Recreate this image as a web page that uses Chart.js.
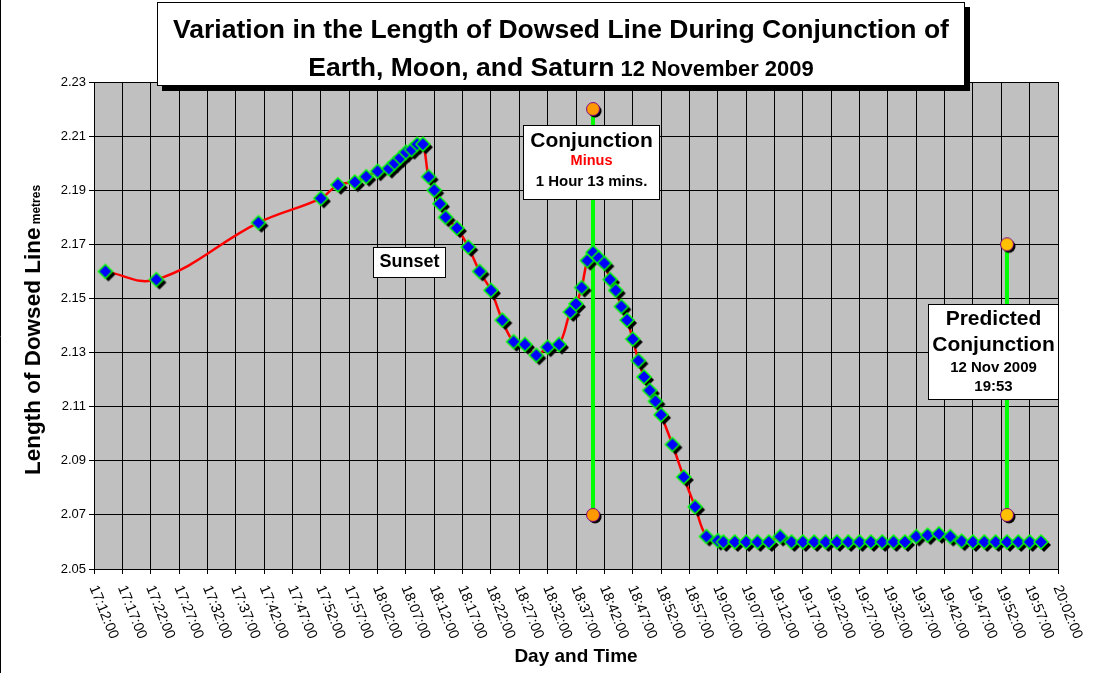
<!DOCTYPE html>
<html><head><meta charset="utf-8">
<script src="https://cdn.jsdelivr.net/npm/chart.js@4.4.0/dist/chart.umd.min.js"></script>
<style>html,body{margin:0;padding:0;background:#fff;overflow:hidden;}#wrap{width:1096px;height:673px;position:relative;}</style>
</head><body><div id="wrap"><canvas id="c" width="1096" height="673"></canvas></div>
<script>
// ---- data ----
const times = ["17:14:00","17:23:00","17:41:00","17:52:00","17:55:00","17:58:00","18:00:00","18:02:00",
"18:04:00","18:05:00","18:06:00","18:07:00","18:08:00","18:09:00","18:10:00","18:11:00","18:12:00","18:13:00",
"18:14:00","18:16:00","18:18:00","18:20:00","18:22:00","18:24:00","18:26:00","18:28:00","18:30:00","18:32:00",
"18:34:00","18:36:00","18:37:00","18:38:00","18:39:00","18:40:00","18:41:00","18:42:00","18:43:00","18:44:00",
"18:45:00","18:46:00","18:47:00","18:48:00","18:49:00","18:50:00","18:51:00","18:52:00","18:54:00","18:56:00",
"18:58:00","19:00:00","19:02:00","19:03:00","19:05:00","19:07:00","19:09:00","19:11:00","19:13:00","19:15:00",
"19:17:00","19:19:00","19:21:00","19:23:00","19:25:00","19:27:00","19:29:00","19:31:00","19:33:00","19:35:00",
"19:37:00","19:39:00","19:41:00","19:43:00","19:45:00","19:47:00","19:49:00","19:51:00","19:53:00","19:55:00",
"19:57:00","19:59:00"];
const lengths = [2.160,2.157,2.178,2.187,2.192,2.193,2.195,2.197,
2.198,2.200,2.202,2.204,2.205,2.207,2.207,2.195,2.190,2.185,
2.180,2.176,2.169,2.160,2.153,2.142,2.134,2.133,2.129,2.132,
2.133,2.145,2.148,2.154,2.164,2.167,2.165,2.163,2.157,2.153,
2.147,2.142,2.135,2.127,2.121,2.116,2.112,2.107,2.096,2.084,
2.073,2.062,2.0605,2.060,2.060,2.060,2.060,2.060,2.062,2.060,
2.060,2.060,2.060,2.060,2.060,2.060,2.060,2.060,2.060,2.060,
2.062,2.0625,2.063,2.062,2.0603,2.060,2.060,2.060,2.060,2.060,
2.060,2.060];
const conjunctionTimes = ["18:40:00","18:40:00"];
const conjunctionValues = [2.22, 2.07];
const predictedTimes = ["19:53:00","19:53:00"];
const predictedValues = [2.17, 2.07];
const xTickLabels = ["17:12:00","17:17:00","17:22:00","17:27:00","17:32:00","17:37:00","17:42:00","17:47:00",
"17:52:00","17:57:00","18:02:00","18:07:00","18:12:00","18:17:00","18:22:00","18:27:00","18:32:00","18:37:00",
"18:42:00","18:47:00","18:52:00","18:57:00","19:02:00","19:07:00","19:12:00","19:17:00","19:22:00","19:27:00",
"19:32:00","19:37:00","19:42:00","19:47:00","19:52:00","19:57:00","20:02:00"];
const yTickValues = [2.05,2.07,2.09,2.11,2.13,2.15,2.17,2.19,2.21,2.23];

// ---- helpers ----
function toSec(t){const p=t.split(':').map(Number);return p[0]*3600+p[1]*60+p[2];}
function fmt(sec){const h=Math.floor(sec/3600),m=Math.floor(sec%3600/60),s=Math.round(sec%60);
  return h+':'+String(m).padStart(2,'0')+':'+String(s).padStart(2,'0');}
const FONT='"Liberation Sans", Arial, sans-serif';

function makeDiamond(){
  const s=30,c=15,r=7,off=3;const cv=document.createElement('canvas');cv.width=s;cv.height=s;
  const g=cv.getContext('2d');
  const path=(x,y)=>{g.beginPath();g.moveTo(x,y-r);g.lineTo(x+r,y);g.lineTo(x,y+r);g.lineTo(x-r,y);g.closePath();};
  path(c+off,c+off);g.fillStyle='#000';g.fill();
  path(c,c);g.fillStyle='#0000FF';g.fill();g.strokeStyle='#00FF00';g.lineWidth=1.5;g.stroke();
  return cv;
}
function makeCircle(fill){
  const s=26,c=13,r=6.5,off=2;const cv=document.createElement('canvas');cv.width=s;cv.height=s;
  const g=cv.getContext('2d');
  g.beginPath();g.arc(c+off,c+off,r,0,Math.PI*2);g.fillStyle='#000';g.fill();
  g.beginPath();g.arc(c,c,r,0,Math.PI*2);g.fillStyle=fill;g.fill();g.strokeStyle='#800080';g.lineWidth=1;g.stroke();
  return cv;
}

function textBox(ctx,x,y,w,h,lines){
  ctx.save();
  ctx.fillStyle='#fff';ctx.fillRect(x,y,w,h);
  ctx.strokeStyle='#000';ctx.lineWidth=1;ctx.strokeRect(x+0.5,y+0.5,w-1,h-1);
  ctx.textAlign='center';ctx.textBaseline='middle';
  lines.forEach(l=>{ctx.font='bold '+l.size+'px '+FONT;ctx.fillStyle=l.color||'#000';ctx.fillText(l.text,x+w/2,l.y);});
  ctx.restore();
}

const decor={
  id:'decor',
  beforeDraw(chart){
    const {ctx,chartArea:a}=chart;
    ctx.save();ctx.fillStyle='#fff';ctx.fillRect(0,0,chart.width,chart.height);
    ctx.fillStyle='#C0C0C0';ctx.fillRect(a.left,a.top,a.right-a.left,a.bottom-a.top);ctx.restore();
  },
  afterDraw(chart){
    const {ctx,chartArea:a}=chart;const xs=chart.scales.x;
    // outer frame line (left edge)
    ctx.save();ctx.strokeStyle='#000';ctx.lineWidth=1;ctx.beginPath();ctx.moveTo(0.5,0);ctx.lineTo(0.5,chart.height);ctx.stroke();ctx.restore();
    // x tick labels (rotated clockwise)
    ctx.save();ctx.font='14.5px '+FONT;ctx.fillStyle='#000';ctx.textAlign='left';ctx.textBaseline='middle';
    xs.ticks.forEach((t,i)=>{const px=xs.getPixelForTick(i);ctx.save();ctx.translate(px-1,a.bottom+17);
      ctx.rotate(68*Math.PI/180);ctx.fillText(fmt(t.value),0,0);ctx.restore();});
    ctx.restore();
    // x axis title
    ctx.save();ctx.font='bold 19px '+FONT;ctx.fillStyle='#000';ctx.textAlign='center';ctx.textBaseline='middle';
    ctx.fillText('Day and Time',(a.left+a.right)/2,657);ctx.restore();
    // y axis title
    ctx.save();ctx.translate(40,330);ctx.rotate(-Math.PI/2);ctx.fillStyle='#000';ctx.textBaseline='alphabetic';
    const t1='Length of Dowsed Line',t2=' metres';
    ctx.font='bold 22.5px '+FONT;const w1=ctx.measureText(t1).width;ctx.font='bold 12px '+FONT;const w2=ctx.measureText(t2).width;
    let sx=-(w1+w2)/2;ctx.textAlign='left';ctx.font='bold 22.5px '+FONT;ctx.fillText(t1,sx,0);
    ctx.font='bold 12px '+FONT;ctx.fillText(t2,sx+w1,0);ctx.restore();
    // annotation boxes
    textBox(ctx,373,247,73,31,[{text:'Sunset',size:18,y:262}]);
    textBox(ctx,523,125,137,75,[{text:'Conjunction',size:21,y:141},{text:'Minus',size:14.5,y:161,color:'#FF0000'},{text:'1 Hour 13 mins.',size:15,y:182}]);
    textBox(ctx,928,304,131,96,[{text:'Predicted',size:21,y:319},{text:'Conjunction',size:21,y:345},{text:'12 Nov 2009',size:15,y:368},{text:'19:53',size:15,y:387}]);
    // title box
    ctx.save();ctx.fillStyle='#000';ctx.fillRect(162,7,808,84);
    ctx.fillStyle='#fff';ctx.fillRect(157,2,808,84);ctx.strokeStyle='#000';ctx.lineWidth=1;ctx.strokeRect(157.5,2.5,807,83);
    ctx.fillStyle='#000';ctx.textAlign='center';ctx.textBaseline='alphabetic';ctx.font='bold 26.5px '+FONT;
    ctx.fillText('Variation in the Length of Dowsed Line During Conjunction of',561,38);
    const a1='Earth, Moon, and Saturn',a2=' 12 November 2009';
    ctx.font='bold 26.5px '+FONT;const m1=ctx.measureText(a1).width;ctx.font='bold 22px '+FONT;const m2=ctx.measureText(a2).width;
    const st=561-(m1+m2)/2;ctx.textAlign='left';ctx.font='bold 26.5px '+FONT;ctx.fillText(a1,st,76);
    ctx.font='bold 22px '+FONT;ctx.fillText(a2,st+m1,76);ctx.restore();
  }
};

const diamond=makeDiamond();
const orangeCircle=makeCircle('#FF9900');
const goldCircle=makeCircle('#FFC000');

new Chart(document.getElementById('c'),{
  type:'scatter',
  data:{datasets:[
    {data:times.map((t,i)=>({x:toSec(t),y:lengths[i]})),showLine:true,borderColor:'#FF0000',borderWidth:2.5,
     tension:0.4,pointStyle:diamond,pointRadius:7,clip:false},
    {data:conjunctionTimes.map((t,i)=>({x:toSec(t),y:conjunctionValues[i]})),showLine:true,borderColor:'#00FF00',
     borderWidth:4,pointStyle:orangeCircle,pointRadius:6,tension:0,clip:false},
    {data:predictedTimes.map((t,i)=>({x:toSec(t),y:predictedValues[i]})),showLine:true,borderColor:'#00FF00',
     borderWidth:4,pointStyle:goldCircle,pointRadius:6,tension:0,clip:false}
  ]},
  options:{
    responsive:false,animation:false,events:[],devicePixelRatio:1,
    layout:{padding:{left:0,right:38,top:82,bottom:0}},
    plugins:{legend:{display:false},tooltip:{enabled:false},title:{display:false}},
    scales:{
      x:{type:'linear',min:toSec(xTickLabels[0]),max:toSec(xTickLabels[xTickLabels.length-1]),
         afterBuildTicks(s){s.ticks=xTickLabels.map(t=>({value:toSec(t)}));},
         afterFit(s){s.height=104;},
         ticks:{display:false},
         grid:{color:'#000',lineWidth:1,drawTicks:true,tickLength:5,tickColor:'#000'},
         border:{color:'#000',width:1}},
      y:{type:'linear',min:yTickValues[0],max:yTickValues[yTickValues.length-1],
         afterBuildTicks(s){s.ticks=yTickValues.map(v=>({value:v}));},
         afterFit(s){s.width=94;},
         ticks:{color:'#000',font:{family:FONT,size:13},padding:3,callback:v=>Number(v).toFixed(2)},
         grid:{color:'#000',lineWidth:1,drawTicks:true,tickLength:5,tickColor:'#000'},
         border:{color:'#000',width:1}}
    }
  },
  plugins:[decor]
});
</script></body></html>
